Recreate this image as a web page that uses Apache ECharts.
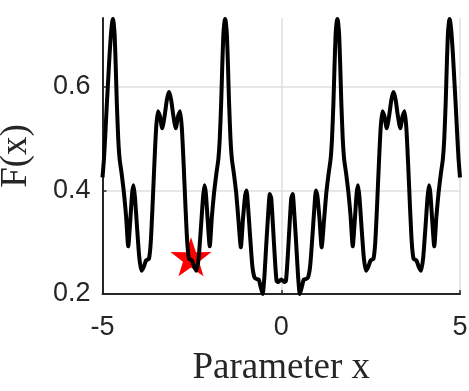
<!DOCTYPE html>
<html lang="en">
  <head>
    <meta charset="UTF-8" />
    <title>F(x)</title>
    <script src="https://cdn.jsdelivr.net/npm/echarts@6.0.0/dist/echarts.min.js"></script>
    <style>
      html, body { margin: 0; padding: 0; background: #fff; }
      #chart { width: 469px; height: 391px; }
    </style>
  </head>
  <body>
    <div id="chart"></div>
    <script>
      // curve (x, F(x))
      var xValues = [
        -5.00, -4.96, -4.92, -4.88, -4.84, -4.80, -4.76, -4.73, -4.71, -4.69,
        -4.66, -4.63, -4.60, -4.56, -4.52, -4.46, -4.40, -4.34, -4.28, -4.22,
        -4.17, -4.13, -4.09, -4.04, -3.97, -3.91, -3.85, -3.78, -3.70, -3.65,
        -3.60, -3.55, -3.50, -3.45, -3.40, -3.33, -3.26, -3.20, -3.14, -3.08,
        -3.02, -2.95, -2.88, -2.83, -2.78, -2.73, -2.68, -2.63, -2.58, -2.50,
        -2.43, -2.37, -2.31, -2.24, -2.19, -2.15, -2.11, -2.06, -2.00, -1.94,
        -1.88, -1.82, -1.76, -1.72, -1.68, -1.65, -1.62, -1.59, -1.57, -1.55,
        -1.52, -1.49, -1.46, -1.42, -1.38, -1.32, -1.26, -1.20, -1.13, -1.07,
        -1.01, -0.97, -0.93, -0.87, -0.81, -0.75, -0.69, -0.63, -0.58, -0.52,
        -0.47, -0.42, -0.37, -0.32, -0.28, -0.23, -0.18, -0.13, -0.08, -0.04,
        0.00,
        0.04, 0.08, 0.13, 0.18, 0.23, 0.28, 0.32, 0.37, 0.42, 0.47,
        0.52, 0.58, 0.63, 0.69, 0.75, 0.81, 0.87, 0.93, 0.97, 1.01,
        1.07, 1.13, 1.20, 1.26, 1.32, 1.38, 1.42, 1.46, 1.49, 1.52,
        1.55, 1.57, 1.59, 1.62, 1.65, 1.68, 1.72, 1.76, 1.82, 1.88,
        1.94, 2.00, 2.06, 2.11, 2.15, 2.19, 2.24, 2.31, 2.37, 2.43,
        2.50, 2.58, 2.63, 2.68, 2.73, 2.78, 2.83, 2.88, 2.95, 3.02,
        3.08, 3.14, 3.20, 3.26, 3.33, 3.40, 3.45, 3.50, 3.55, 3.60,
        3.65, 3.70, 3.78, 3.85, 3.91, 3.97, 4.04, 4.09, 4.13, 4.17,
        4.22, 4.28, 4.34, 4.40, 4.46, 4.52, 4.56, 4.60, 4.63, 4.66,
        4.69, 4.71, 4.73, 4.76, 4.80, 4.84, 4.88, 4.92, 4.96, 5.00
      ];
      var fValues = [
        0.425, 0.460, 0.510, 0.565, 0.615, 0.665, 0.705, 0.725, 0.731, 0.725,
        0.700, 0.640, 0.570, 0.500, 0.460, 0.430, 0.395, 0.350, 0.292, 0.345,
        0.395, 0.410, 0.385, 0.335, 0.270, 0.245, 0.252, 0.265, 0.268, 0.300,
        0.370, 0.450, 0.520, 0.553, 0.545, 0.520, 0.545, 0.575, 0.590, 0.575,
        0.545, 0.520, 0.545, 0.553, 0.520, 0.450, 0.370, 0.300, 0.268, 0.265,
        0.252, 0.245, 0.270, 0.335, 0.385, 0.410, 0.395, 0.345, 0.292, 0.350,
        0.395, 0.430, 0.460, 0.500, 0.570, 0.640, 0.700, 0.725, 0.731, 0.725,
        0.700, 0.640, 0.570, 0.500, 0.460, 0.430, 0.395, 0.345, 0.290, 0.345,
        0.390, 0.400, 0.370, 0.310, 0.255, 0.232, 0.229, 0.228, 0.215, 0.200,
        0.235, 0.295, 0.350, 0.393, 0.385, 0.330, 0.270, 0.225, 0.223, 0.226,
        0.228,
        0.226, 0.223, 0.225, 0.270, 0.330, 0.385, 0.393, 0.350, 0.295, 0.235,
        0.200, 0.215, 0.228, 0.229, 0.232, 0.255, 0.310, 0.370, 0.400, 0.390,
        0.345, 0.290, 0.345, 0.395, 0.430, 0.460, 0.500, 0.570, 0.640, 0.700,
        0.725, 0.731, 0.725, 0.700, 0.640, 0.570, 0.500, 0.460, 0.430, 0.395,
        0.350, 0.292, 0.345, 0.395, 0.410, 0.385, 0.335, 0.270, 0.245, 0.252,
        0.265, 0.268, 0.300, 0.370, 0.450, 0.520, 0.553, 0.545, 0.520, 0.545,
        0.575, 0.590, 0.575, 0.545, 0.520, 0.545, 0.553, 0.520, 0.450, 0.370,
        0.300, 0.268, 0.265, 0.252, 0.245, 0.270, 0.335, 0.385, 0.410, 0.395,
        0.345, 0.292, 0.350, 0.395, 0.430, 0.460, 0.500, 0.570, 0.640, 0.700,
        0.725, 0.731, 0.725, 0.705, 0.665, 0.615, 0.565, 0.510, 0.460, 0.425
      ];
      var bestPoint = [-2.525, 0.272];
      var xTicks = [-5, 0, 5];
      var yTicks = [0.2, 0.4, 0.6];
      var yTop = 0.733;

      var curve = xValues.map(function (x, i) { return [x, fValues[i]]; });
      var starPath = 'path://M50,0 L61.8,35.1 L98.1,34.5 L68.9,56.7 L79.4,90.5 L50,70 L20.6,90.5 L31.1,56.7 L1.9,34.5 L38.2,35.1 Z';
      var ink = '#262626';

      var chart = echarts.init(document.getElementById('chart'));
      chart.setOption({
        animation: false,
        grid: { left: 102.5, right: 9, top: 18, bottom: 97, outerBoundsMode: 'none' },
        xAxis: {
          type: 'value',
          min: xTicks[0],
          max: xTicks[xTicks.length - 1],
          interval: 5,
          name: 'Parameter x',
          nameLocation: 'middle',
          nameGap: 56,
          nameTextStyle: { fontFamily: 'Liberation Serif', fontSize: 37, color: ink },
          axisLine: { onZero: false, lineStyle: { color: ink, width: 2 } },
          axisTick: { inside: true, length: 4, lineStyle: { color: ink, width: 1.5 } },
          axisLabel: { fontFamily: 'Liberation Sans', fontSize: 27, color: ink, margin: 20 },
          splitLine: { show: true, lineStyle: { color: '#dfdfdf', width: 1.5 } }
        },
        yAxis: {
          type: 'value',
          min: yTicks[0],
          max: yTop,
          interval: 0.2,
          name: 'F(x)',
          nameLocation: 'middle',
          nameRotate: 90,
          nameGap: 68,
          nameTextStyle: { fontFamily: 'Liberation Serif', fontSize: 37, color: ink },
          axisLine: { show: true, onZero: false, lineStyle: { color: ink, width: 2 } },
          axisTick: { inside: true, length: 4, lineStyle: { color: ink, width: 1.5 } },
          axisLabel: {
            fontFamily: 'Liberation Sans', fontSize: 27, color: ink, margin: 12,
            padding: [8, 0, 0, 0],
            showMaxLabel: false,
            formatter: function (v) { return v.toFixed(1); }
          },
          splitLine: { show: true, showMaxLine: false, lineStyle: { color: '#dfdfdf', width: 1.5 } }
        },
        series: [
          {
            type: 'scatter',
            data: [bestPoint],
            symbol: starPath,
            symbolSize: [41, 39],
            itemStyle: { color: '#ff0000', opacity: 1 },
            z: 2
          },
          {
            type: 'line',
            data: curve,
            showSymbol: false,
            smooth: 0.2,
            lineStyle: { color: '#000000', width: 4 },
            z: 3
          }
        ]
      });
    </script>
  </body>
</html>
